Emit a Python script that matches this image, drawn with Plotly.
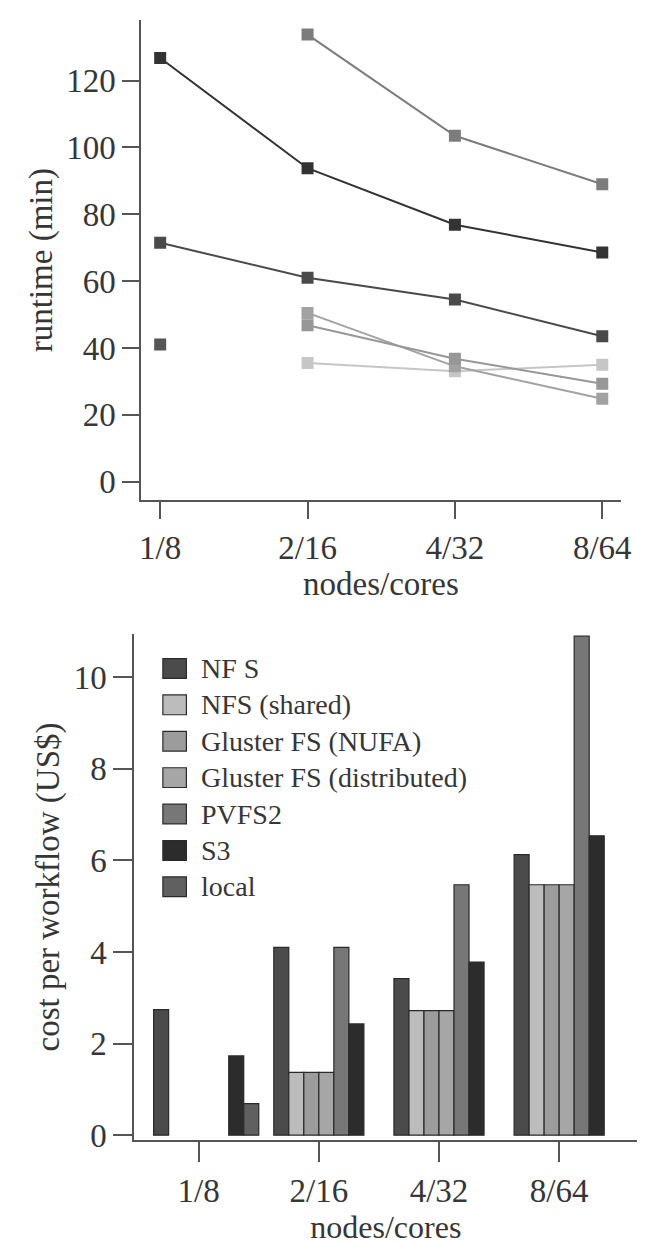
import plotly.graph_objects as go

# ---------------- data ----------------
categories = ["1/8", "2/16", "4/32", "8/64"]
series_names = ["NF S", "NFS (shared)", "Gluster FS (NUFA)", "Gluster FS (distributed)",
                "PVFS2", "S3", "local"]

# runtime (min) per configuration
runtime_nfs = [71.5, 61, 54.5, 43.5]
runtime_nfs_shared = [None, 35.5, 33, 35]
runtime_gluster_nufa = [None, 50.5, 34.5, 24.8]
runtime_gluster_dist = [None, 46.8, 36.8, 29.3]
runtime_pvfs2 = [None, 133.8, 103.5, 89]
runtime_s3 = [126.8, 93.8, 76.9, 68.6]
runtime_local = [41, None, None, None]

# cost per workflow (US$)
cost_nfs = [2.74, 4.10, 3.42, 6.13]
cost_nfs_shared = [None, 1.37, 2.72, 5.47]
cost_gluster_nufa = [None, 1.37, 2.72, 5.47]
cost_gluster_dist = [None, 1.37, 2.72, 5.47]
cost_pvfs2 = [None, 4.10, 5.47, 10.9]
cost_s3 = [1.73, 2.43, 3.78, 6.54]
cost_local = [0.69, None, None, None]

runtime_tickvals = [0, 20, 40, 60, 80, 100, 120]
cost_tickvals = [0, 2, 4, 6, 8, 10]

# ---------------- styles ----------------
bar_colors = ["#4b4b4b", "#bcbcbc", "#9c9c9c", "#a6a6a6", "#777777", "#2c2c2c", "#606060"]
line_colors = ["#4a4a4a", "#c6c6c6", "#a2a2a2", "#979797", "#7c7c7c", "#333333", "#555555"]
FONT = "Liberation Serif, Times New Roman, serif"
TXT = "#363636"
AX = "#555555"

W, H = 650, 1243
def fx(p):
    return p / W
def fy(p):
    return 1 - p / H

runtimes = [runtime_nfs, runtime_nfs_shared, runtime_gluster_nufa, runtime_gluster_dist,
            runtime_pvfs2, runtime_s3, runtime_local]
costs = [cost_nfs, cost_nfs_shared, cost_gluster_nufa, cost_gluster_dist,
         cost_pvfs2, cost_s3, cost_local]

fig = go.Figure()

# top: line chart
xpos = list(range(len(categories)))
for name, vals, col in zip(series_names, runtimes, line_colors):
    fig.add_trace(go.Scatter(
        x=xpos, y=vals, name=name, mode="lines+markers",
        line=dict(color=col, width=2),
        marker=dict(symbol="square", size=12, color=col),
        connectgaps=False, showlegend=False,
        xaxis="x", yaxis="y"))

# bottom: grouped bars
for name, vals, col in zip(series_names, costs, bar_colors):
    fig.add_trace(go.Bar(
        x=xpos, y=vals, name=name,
        marker=dict(color=col, line=dict(color="#2a2a2a", width=1.2)),
        showlegend=False, xaxis="x2", yaxis="y2"))

# manual legend (box sizes like the original)
shapes = []
annotations = []
leg_y0 = 668
leg_dy = 36.8
for i, (name, col) in enumerate(zip(series_names, bar_colors)):
    cy = leg_y0 + i * leg_dy
    shapes.append(dict(type="rect", xref="paper", yref="paper",
                       x0=fx(156), x1=fx(180), y0=fy(cy + 10), y1=fy(cy - 10),
                       fillcolor=col, line=dict(color="#2a2a2a", width=1.2)))
    annotations.append(dict(xref="paper", yref="paper", x=fx(193), y=fy(cy),
                            xanchor="left", yanchor="middle", text=name, showarrow=False,
                            font=dict(family=FONT, size=28, color=TXT)))

axis_common = dict(showline=True, linecolor=AX, linewidth=2, showgrid=False, zeroline=False,
                   ticks="outside", tickcolor=AX, tickwidth=2,
                   tickfont=dict(family=FONT, size=33, color=TXT))

fig.update_layout(
    width=W, height=H, autosize=False,
    margin=dict(l=0, r=0, t=0, b=0),
    paper_bgcolor="white", plot_bgcolor="white",
    barmode="group", bargap=0.125, bargroupgap=0,
    shapes=shapes, annotations=annotations,
    xaxis=dict(axis_common, domain=[fx(134), fx(623)], range=[-0.128, 3.124],
               tickvals=xpos, ticktext=categories, ticklen=17, ticklabelstandoff=0,
               anchor="y",
               title=dict(text="nodes/cores", font=dict(family=FONT, size=33, color=TXT),
                          standoff=0)),
    yaxis=dict(axis_common, domain=[fy(498), fy(12)], range=[-5.62, 138.2],
               tickvals=runtime_tickvals, ticklen=17, anchor="x",
               title=dict(text="runtime (min)", font=dict(family=FONT, size=33, color=TXT),
                          standoff=4)),
    xaxis2=dict(axis_common, domain=[fx(127), fx(640)], range=[-0.597, 3.587],
                tickvals=[p - 0.0625 for p in xpos], ticktext=categories, ticklen=20,
                ticklabelstandoff=0, anchor="y2",
                title=dict(text="nodes/cores", font=dict(family=FONT, size=32, color=TXT),
                           standoff=0)),
    yaxis2=dict(axis_common, domain=[fy(1145), fy(633)], range=[-0.108, 10.95],
                tickvals=cost_tickvals, ticklen=19, anchor="x2",
                title=dict(text="cost per workflow (US$)",
                           font=dict(family=FONT, size=33, color=TXT), standoff=4)),
)

fig.write_html("out.html")
